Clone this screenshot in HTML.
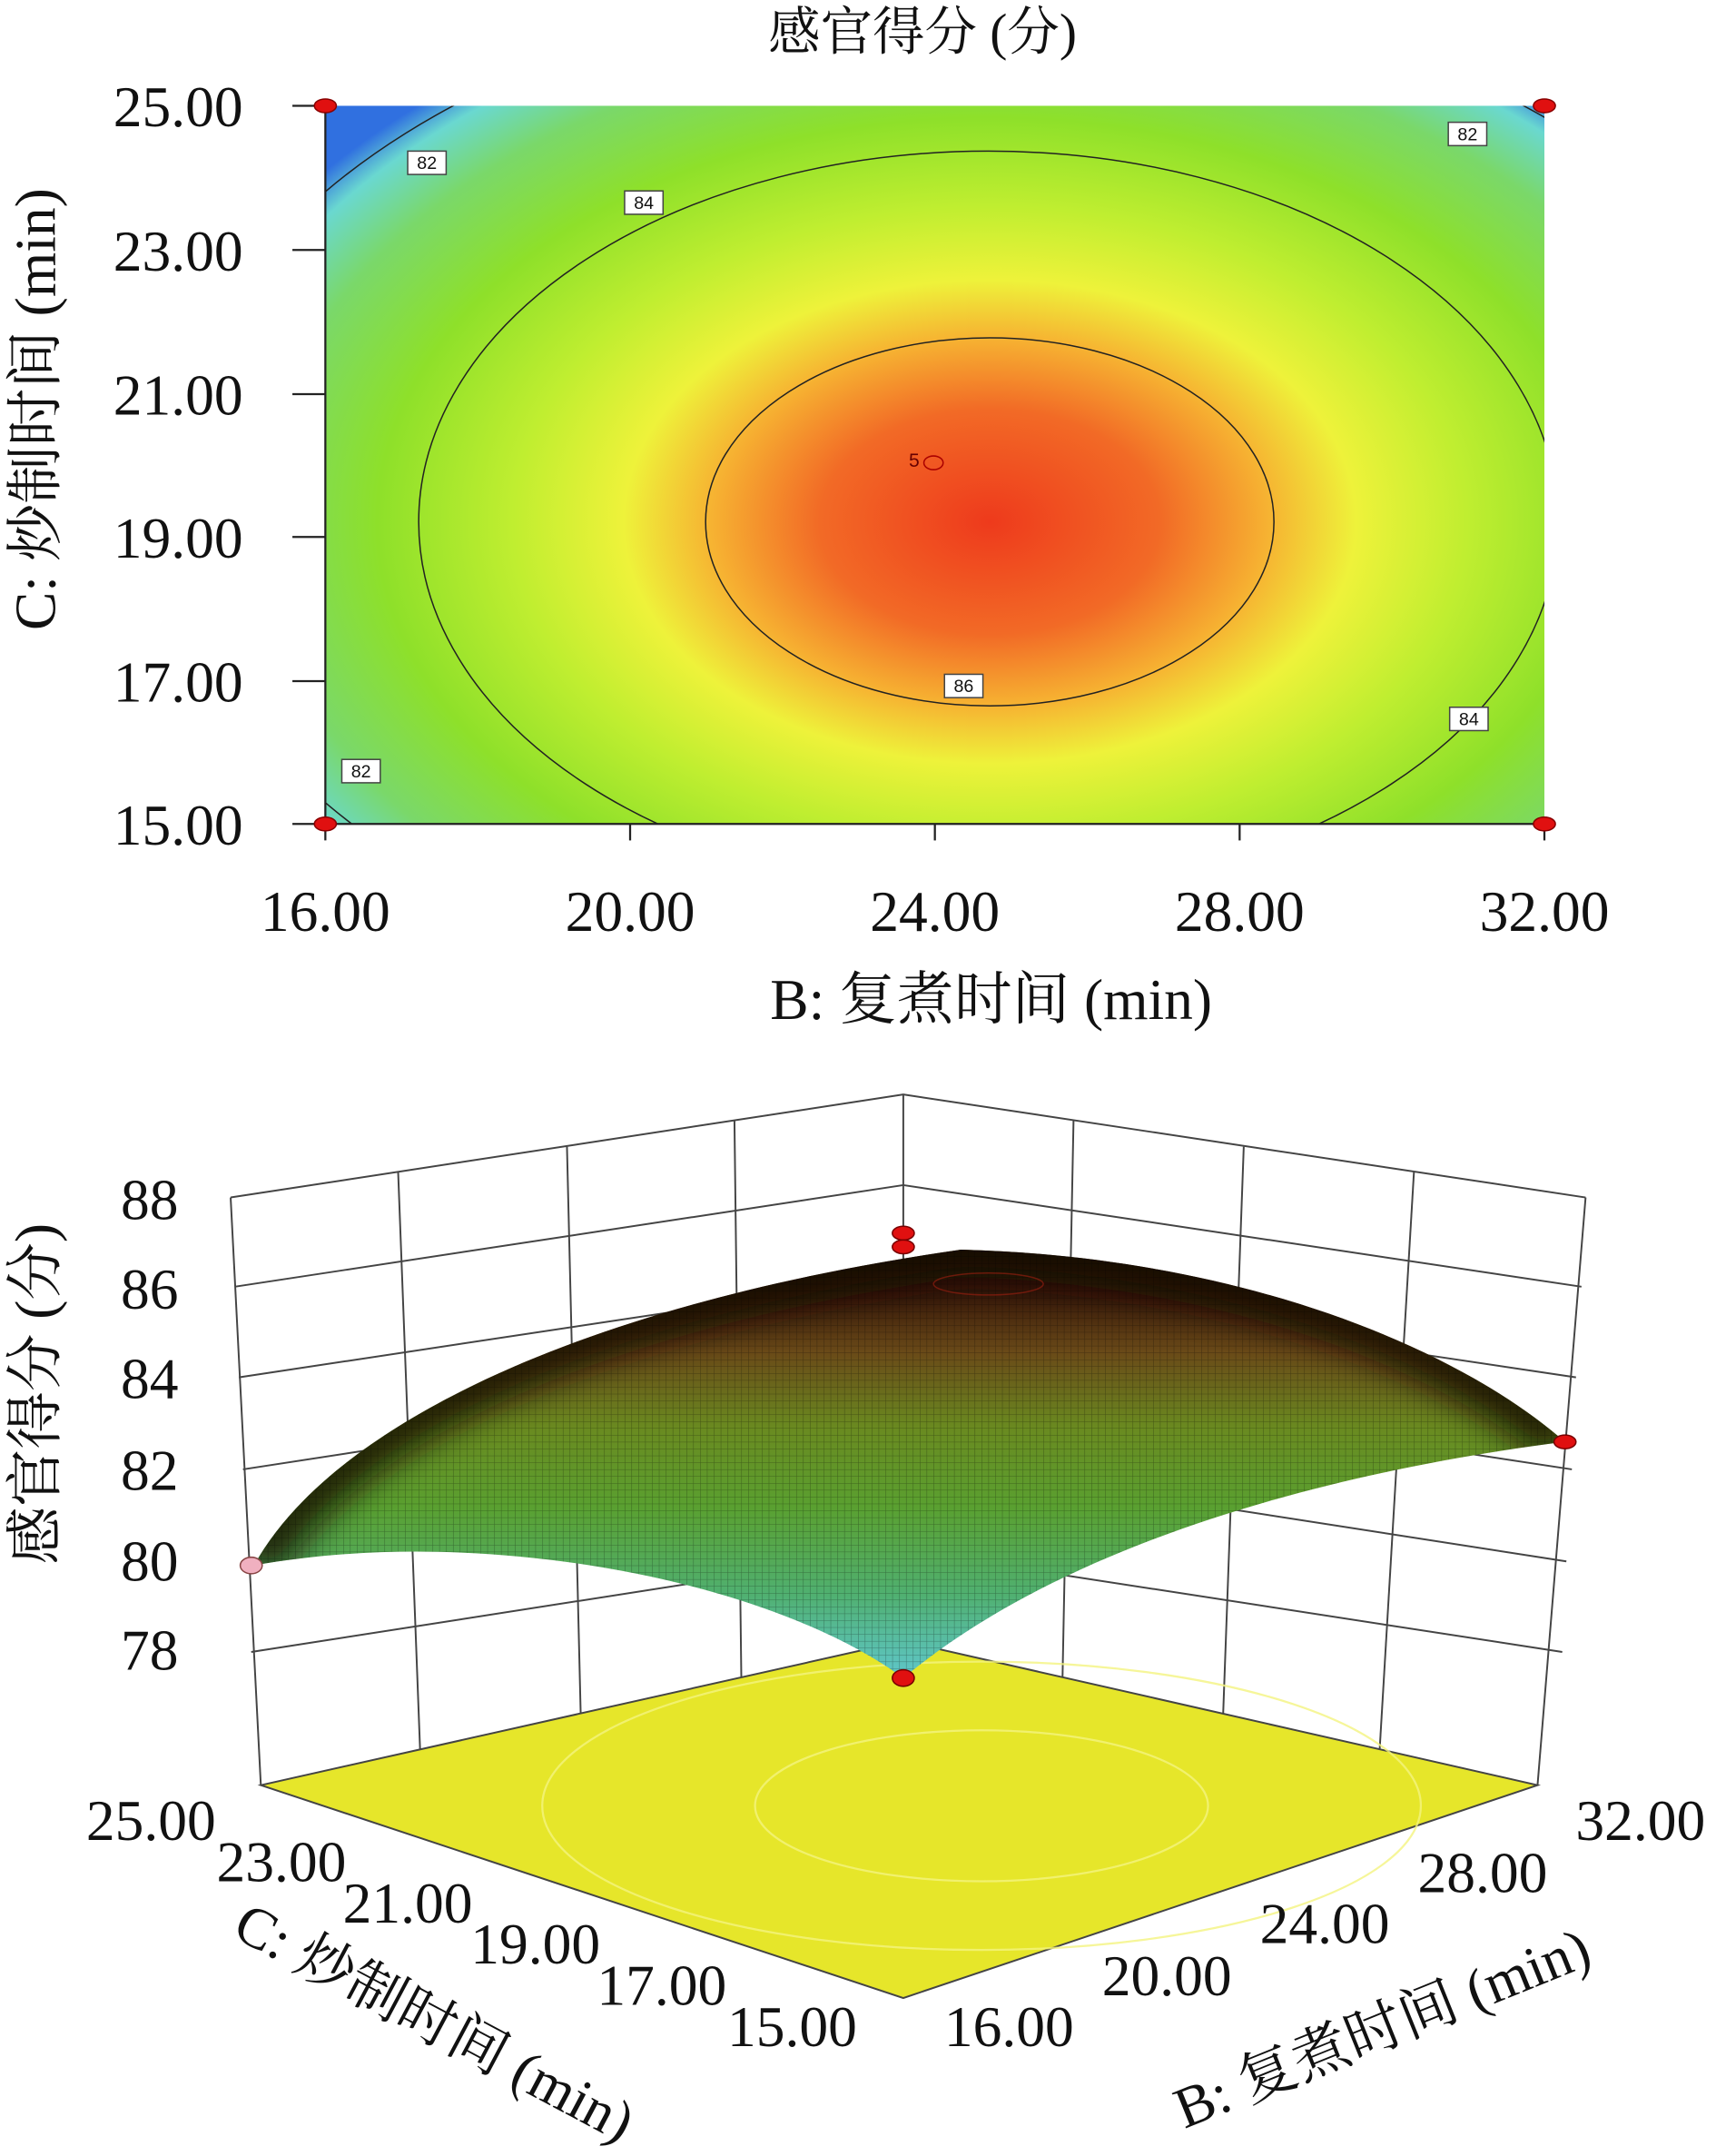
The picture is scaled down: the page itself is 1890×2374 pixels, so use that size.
<!DOCTYPE html>
<html><head><meta charset="utf-8"><style>
html,body{margin:0;padding:0;background:#fff;}
svg{display:block;}
text{font-family:"Liberation Serif","Noto Serif CJK SC",serif;fill:#111;}
</style></head><body>
<svg width="1890" height="2374" viewBox="0 0 1250 1570" xmlns="http://www.w3.org/2000/svg">
<defs>
<radialGradient id="hm" cx="721" cy="380" r="620" gradientUnits="userSpaceOnUse" gradientTransform="translate(721 380) scale(1 0.66) translate(-721 -380)">
<stop offset="0" stop-color="#ee3a1c"/>
<stop offset="0.2" stop-color="#f26a26"/>
<stop offset="0.33" stop-color="#f6b432"/>
<stop offset="0.43" stop-color="#eef23a"/>
<stop offset="0.56" stop-color="#c0ee30"/>
<stop offset="0.72" stop-color="#8ee02a"/>
<stop offset="0.86" stop-color="#7ad86a"/>
<stop offset="0.95" stop-color="#6ad8d0"/>
<stop offset="1" stop-color="#3070e0"/>
</radialGradient>
<clipPath id="pc"><rect x="237" y="77" width="888" height="523"/></clipPath>
<linearGradient id="sg" x1="0" y1="905" x2="0" y2="1225" gradientUnits="userSpaceOnUse">
<stop offset="0" stop-color="#1a0a05"/>
<stop offset="0.12" stop-color="#3a1a0a"/>
<stop offset="0.25" stop-color="#6a4a18"/>
<stop offset="0.42" stop-color="#6a8a20"/>
<stop offset="0.6" stop-color="#5aa030"/>
<stop offset="0.8" stop-color="#50b070"/>
<stop offset="1" stop-color="#60c8d0"/>
</linearGradient>
<pattern id="mesh" width="5" height="5" patternUnits="userSpaceOnUse"><path d="M0 0H5M0 0V5" stroke="#000" stroke-width="0.7" opacity="0.35"/></pattern>
<clipPath id="sc"><path d="M185 1140 C240 1040 420 950 700 910 C900 915 1060 980 1140 1050 C980 1070 780 1120 658 1222 C560 1150 350 1110 185 1140 Z"/></clipPath>
<filter id="bl"><feGaussianBlur stdDeviation="12"/></filter>
</defs>

<!-- TOP CONTOUR -->
<text x="672" y="36" font-size="38" text-anchor="middle">感官得分 (分)</text>
<rect x="237" y="77" width="888" height="523" fill="url(#hm)"/>
<g clip-path="url(#pc)" fill="none" stroke="#222" stroke-width="1">
<ellipse cx="721" cy="380" rx="207" ry="134"/>
<ellipse cx="720" cy="380" rx="415" ry="270"/>
<ellipse cx="720" cy="362" rx="600" ry="375"/>
<ellipse cx="680" cy="337" rx="7" ry="5" stroke="#a00"/>
</g>
<g>
<rect x="297" y="110" width="28" height="17" fill="#fff" stroke="#444"/><text x="311" y="123" text-anchor="middle" style="font-family:'Liberation Sans';font-size:13px">82</text>
<rect x="455" y="139" width="28" height="17" fill="#fff" stroke="#444"/><text x="469" y="152" text-anchor="middle" style="font-family:'Liberation Sans';font-size:13px">84</text>
<rect x="1055" y="89" width="28" height="17" fill="#fff" stroke="#444"/><text x="1069" y="102" text-anchor="middle" style="font-family:'Liberation Sans';font-size:13px">82</text>
<rect x="688" y="491" width="28" height="17" fill="#fff" stroke="#444"/><text x="702" y="504" text-anchor="middle" style="font-family:'Liberation Sans';font-size:13px">86</text>
<rect x="1056" y="515" width="28" height="17" fill="#fff" stroke="#444"/><text x="1070" y="528" text-anchor="middle" style="font-family:'Liberation Sans';font-size:13px">84</text>
<rect x="249" y="553" width="28" height="17" fill="#fff" stroke="#444"/><text x="263" y="566" text-anchor="middle" style="font-family:'Liberation Sans';font-size:13px">82</text>
<text x="662" y="340" style="font-family:'Liberation Sans';font-size:14px;fill:#600">5</text>
</g>
<g stroke="#222" stroke-width="1.5">
<line x1="237" y1="77" x2="237" y2="612"/>
<line x1="213" y1="77" x2="237" y2="77"/><line x1="213" y1="182" x2="237" y2="182"/><line x1="213" y1="287" x2="237" y2="287"/><line x1="213" y1="391" x2="237" y2="391"/><line x1="213" y1="496" x2="237" y2="496"/><line x1="213" y1="600" x2="237" y2="600"/>
<line x1="237" y1="600" x2="1125" y2="600"/>
<line x1="459" y1="600" x2="459" y2="612"/><line x1="681" y1="600" x2="681" y2="612"/><line x1="903" y1="600" x2="903" y2="612"/><line x1="1125" y1="600" x2="1125" y2="612"/>
</g>
<g fill="#e01010" stroke="#800"><ellipse cx="237" cy="77" rx="8" ry="5"/><ellipse cx="1125" cy="77" rx="8" ry="5"/><ellipse cx="237" cy="600" rx="8" ry="5"/><ellipse cx="1125" cy="600" rx="8" ry="5"/></g>
<g font-size="42" text-anchor="end">
<text x="177" y="92">25.00</text><text x="177" y="197">23.00</text><text x="177" y="302">21.00</text><text x="177" y="406">19.00</text><text x="177" y="511">17.00</text><text x="177" y="615">15.00</text>
</g>
<g font-size="42" text-anchor="middle">
<text x="237" y="678">16.00</text><text x="459" y="678">20.00</text><text x="681" y="678">24.00</text><text x="903" y="678">28.00</text><text x="1125" y="678">32.00</text>
<text x="722" y="742">B: 复煮时间 (min)</text>
</g>
<text transform="translate(40 298) rotate(-90)" font-size="42" text-anchor="middle">C: 炒制时间 (min)</text>

<!-- 3D PLOT -->
<g stroke="#444" stroke-width="1.3" fill="none">
<path d="M168 872 L658 797 L1155 872"/>
<line x1="658" y1="797" x2="658" y2="1195"/>
<line x1="168" y1="872" x2="190" y2="1300"/>
<line x1="1155" y1="872" x2="1120" y2="1300"/>
<path d="M171 937 L658 863"/><path d="M174 1003 L658 930"/><path d="M177 1070 L658 996"/><path d="M180 1137 L658 1062"/><path d="M183 1203 L658 1129"/>
<path d="M1152 937 L658 863"/><path d="M1148 1003 L658 930"/><path d="M1145 1070 L658 996"/><path d="M1141 1137 L658 1062"/><path d="M1138 1203 L658 1129"/>
<line x1="290" y1="853" x2="306" y2="1274"/><line x1="413" y1="835" x2="423" y2="1248"/><line x1="535" y1="816" x2="540" y2="1221"/>
<line x1="782" y1="816" x2="774" y2="1221"/><line x1="906" y1="835" x2="891" y2="1248"/><line x1="1030" y1="853" x2="1005" y2="1274"/>
</g>
<path d="M190 1300 L658 1195 L1120 1300 L658 1455 Z" fill="#e6e62a" stroke="#444" stroke-width="1.3"/>
<g fill="none" stroke="#f4f480" stroke-width="1.5" opacity="0.8">
<ellipse cx="715" cy="1315" rx="165" ry="55"/>
<ellipse cx="715" cy="1315" rx="320" ry="105"/>
</g>
<!-- surface -->
<g clip-path="url(#sc)">
<rect x="170" y="900" width="990" height="330" fill="url(#sg)"/>
<path d="M185 1140 C240 1040 420 950 700 910 C900 915 1060 980 1140 1050" fill="none" stroke="#150805" stroke-width="40" opacity="0.85" filter="url(#bl)"/>
<rect x="170" y="900" width="990" height="330" fill="url(#mesh)"/>
</g>
<ellipse cx="720" cy="935" rx="40" ry="8" fill="none" stroke="#a02010" opacity="0.6"/>
<g fill="#e01010" stroke="#700">
<ellipse cx="658" cy="898" rx="8" ry="5"/><ellipse cx="658" cy="908" rx="8" ry="5"/>
<ellipse cx="1140" cy="1050" rx="8" ry="5"/><ellipse cx="658" cy="1222" rx="8" ry="6"/>
</g>
<ellipse cx="183" cy="1140" rx="8" ry="6" fill="#f0b0c0" stroke="#844"/>
<g font-size="42" text-anchor="end">
<text x="130" y="888">88</text><text x="130" y="953">86</text><text x="130" y="1018">84</text><text x="130" y="1085">82</text><text x="130" y="1151">80</text><text x="130" y="1216">78</text>
</g>
<text transform="translate(40 1015) rotate(-90)" font-size="42" text-anchor="middle">感官得分 (分)</text>
<g font-size="42" text-anchor="middle">
<text x="110" y="1340">25.00</text><text x="205" y="1370">23.00</text><text x="297" y="1400">21.00</text><text x="390" y="1430">19.00</text><text x="482" y="1460">17.00</text><text x="577" y="1490">15.00</text>
<text x="735" y="1490">16.00</text><text x="850" y="1453">20.00</text><text x="965" y="1415">24.00</text><text x="1080" y="1378">28.00</text><text x="1195" y="1340">32.00</text>
</g>
<text transform="translate(310 1485) rotate(28)" font-size="42" text-anchor="middle">C: 炒制时间 (min)</text>
<text transform="translate(1012 1490) rotate(-22)" font-size="42" text-anchor="middle">B: 复煮时间 (min)</text>
</svg>
</body></html>
